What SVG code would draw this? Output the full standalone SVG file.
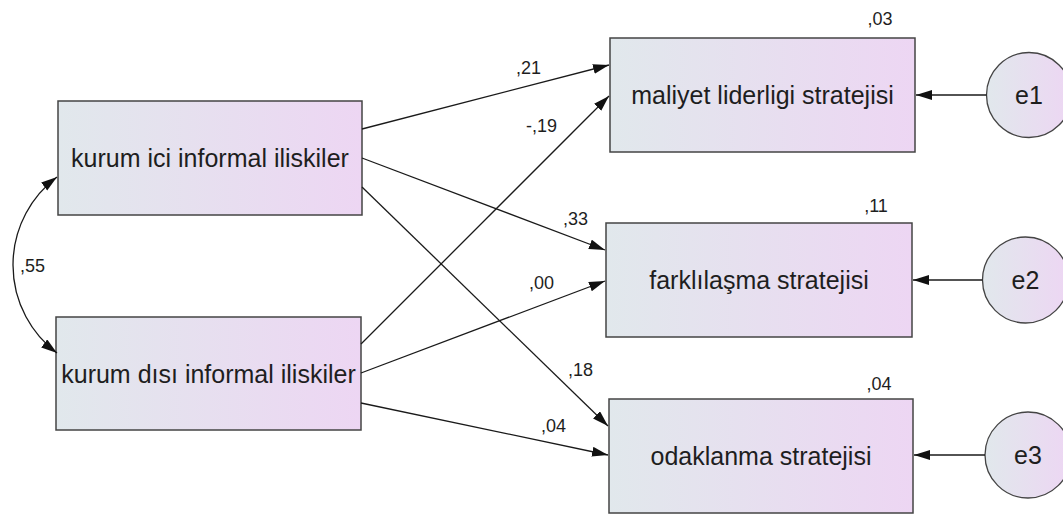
<svg xmlns="http://www.w3.org/2000/svg" width="1063" height="514" viewBox="0 0 1063 514">
  <defs>
    <linearGradient id="fillGrad" x1="0" y1="0" x2="1" y2="0">
      <stop offset="0" stop-color="#e1e8ec"/>
      <stop offset="1" stop-color="#edd6f3"/>
    </linearGradient>
    <marker id="arrow" markerUnits="userSpaceOnUse" markerWidth="17" markerHeight="11" refX="16" refY="5" orient="auto-start-reverse">
      <path d="M0,0 L16,5 L0,10 z" fill="#111"/>
    </marker>
    <style>
      .box { fill: url(#fillGrad); stroke: #444; stroke-width: 1.5; }
      .err { fill: url(#fillGrad); stroke: #444; stroke-width: 1.3; }
      .name { font-family: "Liberation Sans", Arial, sans-serif; font-size: 25px; fill: #1e1e1e; text-anchor: middle; dominant-baseline: central; }
      .val { font-family: "Liberation Sans", Arial, sans-serif; font-size: 18px; fill: #1e1e1e; }
      .conn { fill: none; stroke: #1a1a1a; stroke-width: 1.3; marker-end: url(#arrow); }
    </style>
  </defs>
  <rect width="1063" height="514" fill="#ffffff"/>

  <!-- exogenous variables -->
  <g id="kurum-ici">
    <rect class="box" x="58" y="101" width="304" height="114"/>
    <text class="name" x="210" y="158">kurum ici informal iliskiler</text>
  </g>
  <g id="kurum-disi">
    <rect class="box" x="56" y="317" width="305" height="113"/>
    <text class="name" x="208.5" y="373.5">kurum dısı informal iliskiler</text>
  </g>

  <!-- endogenous variables -->
  <g id="maliyet">
    <rect class="box" x="610" y="38" width="305" height="114"/>
    <text class="name" x="762.5" y="95">maliyet liderligi stratejisi</text>
    <text class="val" x="880" y="25" text-anchor="middle">,03</text>
  </g>
  <g id="farklilasma">
    <rect class="box" x="606" y="223" width="306" height="114"/>
    <text class="name" x="759" y="280">farklılaşma stratejisi</text>
    <text class="val" x="876" y="212" text-anchor="middle">,11</text>
  </g>
  <g id="odaklanma">
    <rect class="box" x="609" y="399" width="304" height="114"/>
    <text class="name" x="761" y="456">odaklanma stratejisi</text>
    <text class="val" x="879" y="390" text-anchor="middle">,04</text>
  </g>

  <!-- error terms -->
  <g id="e1">
    <circle class="err" cx="1029" cy="95" r="42.5"/>
    <text class="name" x="1029" y="95">e1</text>
  </g>
  <g id="e2">
    <circle class="err" cx="1025.5" cy="280" r="43"/>
    <text class="name" x="1025.5" y="280">e2</text>
  </g>
  <g id="e3">
    <circle class="err" cx="1028" cy="455" r="43"/>
    <text class="name" x="1028" y="455">e3</text>
  </g>

  <!-- paths, covariance and error links -->
  <g id="connectors">
    <path class="conn" d="M362,129 L609,65"/>
    <path class="conn" d="M362,158 L605,250"/>
    <path class="conn" d="M362,187 L608,426"/>
    <path class="conn" d="M361,344 L609,96"/>
    <path class="conn" d="M361,373 L605,281"/>
    <path class="conn" d="M361,403 L608,455"/>
    <path class="conn" d="M57,177 A110,110 0 0 0 57,353" marker-start="url(#arrow)"/>
    <path class="conn" d="M986.5,95 L916,95"/>
    <path class="conn" d="M982.5,280 L913,280"/>
    <path class="conn" d="M985,455 L914,455"/>
  </g>

  <!-- coefficients -->
  <g id="coefficients">
    <text class="val" x="516" y="74">,21</text>
    <text class="val" x="526" y="132">-,19</text>
    <text class="val" x="563" y="225">,33</text>
    <text class="val" x="529" y="289">,00</text>
    <text class="val" x="568" y="376">,18</text>
    <text class="val" x="541" y="432">,04</text>
    <text class="val" x="20" y="272">,55</text>
  </g>
</svg>
